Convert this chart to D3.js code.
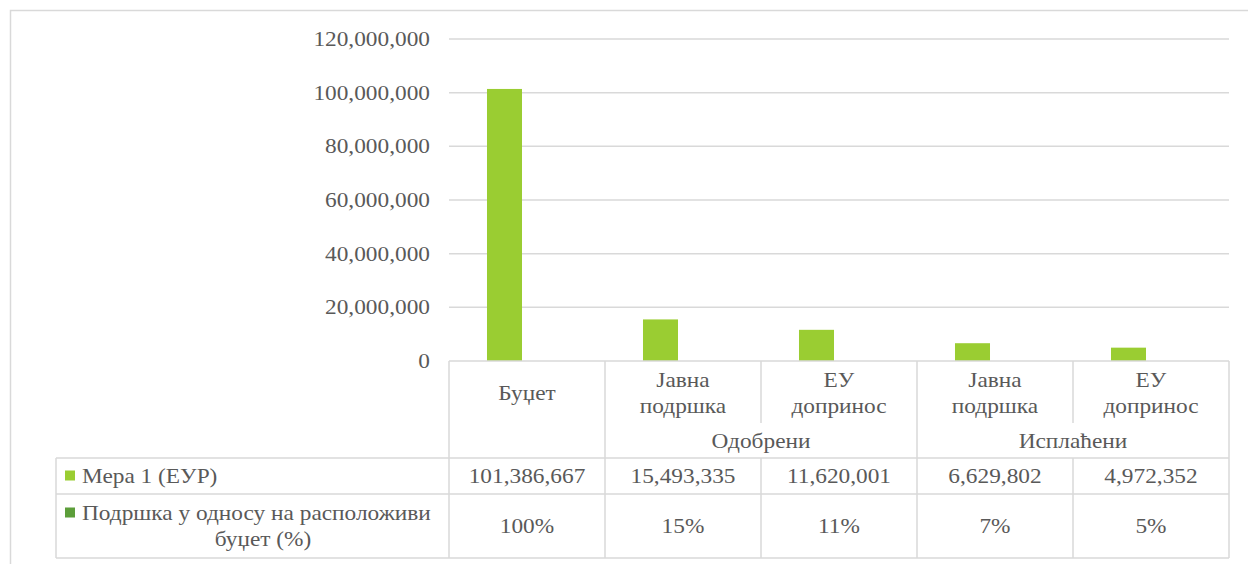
<!doctype html>
<html>
<head>
<meta charset="utf-8"/>
<script src="https://d3js.org/d3.v7.min.js"></script>
</head>
<body>
<svg id="svg1" width="1248" height="564"></svg>
<script>
// data
const categories = ["Буџет", "Јавна подршка", "ЕУ допринос", "Јавна подршка", "ЕУ допринос"];
const categoryLines = [["Буџет"], ["Јавна", "подршка"], ["ЕУ", "допринос"], ["Јавна", "подршка"], ["ЕУ", "допринос"]];
const groupNames = ["", "Одобрени", "Исплаћени"];
const groupSpans = [1, 2, 2];
const seriesNames = ["Мера 1 (ЕУР)", "Подршка у односу на расположиви буџет (%)"];
const seriesLines = [["Мера 1 (ЕУР)"], ["Подршка у односу на расположиви", "буџет (%)"]];
const seriesColors = ["#9acd32", "#5c9e3a"];
const mera1 = [101386667, 15493335, 11620001, 6629802, 4972352];
const podrska = [1.00, 0.15, 0.11, 0.07, 0.05];
const mera1Labels = ["101,386,667", "15,493,335", "11,620,001", "6,629,802", "4,972,352"];
const podrskaLabels = ["100%", "15%", "11%", "7%", "5%"];
const yMax = 120000000;

const W = 1248, H = 564;
const fontSize = 22, stretch = 1.06;
const fam = "Times New Roman";
const lineColor = "#d9d9d9";

const svg = d3.select("#svg1");
document.body.style.margin = "0";

// chart border, runs off the right and bottom of the picture
svg.append("rect")
    .attr("x", 10.5).attr("y", 10.5)
    .attr("width", W + 20).attr("height", H + 20)
    .attr("fill", "none").attr("stroke", lineColor).attr("stroke-width", 1.5);

const x = d3.scaleBand().domain(d3.range(categories.length)).range([449, 1229]);
const xs = d3.scaleBand().domain(d3.range(seriesNames.length))
    .range([0, x.bandwidth()]).paddingInner(0.222).paddingOuter(0.844);
const y = d3.scaleLinear().domain([0, yMax]).range([361, 39]);

function addText(g, tx, ty, str, anchor = "middle") {
    const t = g.append("text")
        .attr("x", tx)
        .attr("y", ty + 7)
        .attr("text-anchor", anchor)
        .style("font-family", `"${fam}"`)
        .style("font-size", fontSize + "px")
        .style("fill", "#595959")
        .text(str);
    // the text in the picture runs a little wide
    const len = t.node().getComputedTextLength();
    t.attr("textLength", len * stretch).attr("lengthAdjust", "spacingAndGlyphs");
    return t;
}

function hline(x1, x2, yy) {
    svg.append("line").attr("x1", x1).attr("x2", x2).attr("y1", yy).attr("y2", yy)
        .attr("stroke", lineColor).attr("stroke-width", 1.5);
}
function vline(xx, y1, y2) {
    svg.append("line").attr("x1", xx).attr("x2", xx).attr("y1", y1).attr("y2", y2)
        .attr("stroke", lineColor).attr("stroke-width", 1.5);
}

// gridlines and tick labels
const ticks = y.ticks(6);
ticks.forEach(t => {
    if (t > 0) hline(x.range()[0], x.range()[1], y(t));
    addText(svg, 430, y(t), d3.format(",")(t), "end");
});

// bars
const series = [mera1, podrska];
series.forEach((vals, si) => {
    svg.append("g").selectAll("rect")
        .data(vals)
        .join("rect")
        .attr("x", (d, i) => x(i) + xs(si))
        .attr("width", xs.bandwidth())
        .attr("y", d => y(d))
        .attr("height", d => y(0) - y(d))
        .attr("fill", seriesColors[si]);
});

// data table
const rowTop = 361, rowSplit = 423, dataTop = 458, rowMid = 494, rowBottom = 558;
const legendLeft = 56;

hline(x.range()[0], x.range()[1], rowTop);
hline(legendLeft, x.range()[1], dataTop);
hline(legendLeft, x.range()[1], rowMid);
hline(legendLeft, x.range()[1], rowBottom);
vline(legendLeft, dataTop, rowBottom);

// vertical lines: group edges run through the header, the rest stop at the split
let gi = 0, edgeIdx = [0];
groupSpans.forEach(s => { gi += s; edgeIdx.push(gi); });
d3.range(categories.length + 1).forEach(i => {
    const xx = i < categories.length ? x(i) : x.range()[1];
    if (edgeIdx.includes(i)) vline(xx, rowTop, rowBottom);
    else { vline(xx, rowTop, rowSplit); vline(xx, dataTop, rowBottom); }
});

// category names
categoryLines.forEach((lines, i) => {
    const cx = x(i) + x.bandwidth() / 2;
    lines.forEach((ln, k) => addText(svg, cx, 393 + (k - (lines.length - 1) / 2) * 26, ln));
});

// group names
let start = 0;
groupNames.forEach((g, k) => {
    const cx = (x(start) + x(start + groupSpans[k] - 1) + x.bandwidth()) / 2;
    if (g) addText(svg, cx, 441, g);
    start += groupSpans[k];
});

// value rows
const rowCenters = [(dataTop + rowMid) / 2, (rowMid + rowBottom) / 2];
[mera1Labels, podrskaLabels].forEach((labels, r) => {
    labels.forEach((lab, i) => addText(svg, x(i) + x.bandwidth() / 2, rowCenters[r], lab));
});

// legend keys + series names
seriesLines.forEach((lines, r) => {
    const top = rowCenters[r] - (lines.length - 1) * 13;
    svg.append("rect")
        .attr("x", 65).attr("y", top - 5.5)
        .attr("width", 10).attr("height", 10)
        .attr("fill", seriesColors[r]);
    lines.forEach((ln, k) => {
        if (k == 0) addText(svg, 82, top, ln, "start");
        else addText(svg, 263, top + k * 26, ln, "middle");
    });
});
</script>
</body>
</html>
